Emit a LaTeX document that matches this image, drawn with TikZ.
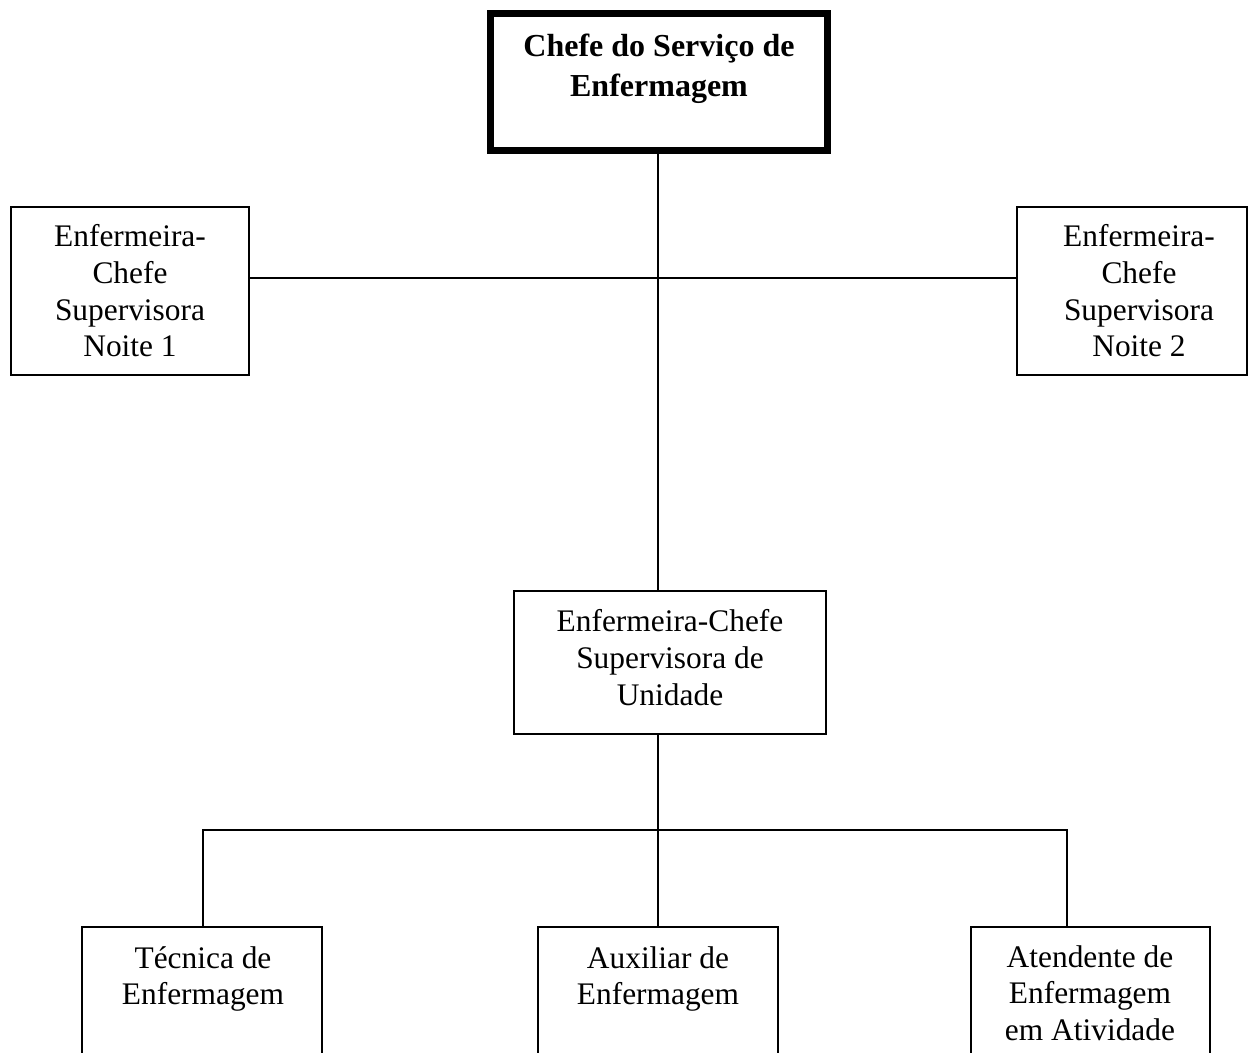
\documentclass[tikz,border=0pt]{standalone}
\usepackage{fontspec}
\setmainfont{Liberation Serif}
\begin{document}
\begin{tikzpicture}[x=0.5pt,y=-0.5pt,
  box/.style={draw=black,line width=0.85pt,rectangle,inner sep=0pt},
  headbox/.style={draw=black,line width=3.5pt,rectangle,inner sep=0pt},
  label/.style={inner sep=0pt,anchor=base,font=\fontsize{15.7}{18.3}\selectfont},
  headlabel/.style={inner sep=0pt,anchor=base,font=\fontsize{16}{19.7}\selectfont\bfseries},
  link/.style={draw=black,line width=0.85pt}]
\path[use as bounding box] (0,0) rectangle (1248,1053);
\clip (0,0) rectangle (1248,1053);

% boxes
\node[headbox,minimum width=168.5pt,minimum height=68.5pt] (chefe) at (659,82) {};
\node[box,minimum width=119pt,minimum height=84pt] (noite1) at (130,291) {};
\node[box,minimum width=115pt,minimum height=84pt] (noite2) at (1132,291) {};
\node[box,minimum width=156pt,minimum height=71.5pt] (unid) at (670,662.5) {};
\node[box,minimum width=120pt,minimum height=86.5pt] (tec) at (202,1013.5) {};
\node[box,minimum width=120pt,minimum height=86.5pt] (aux) at (658,1013.5) {};
\node[box,minimum width=119.5pt,minimum height=86.5pt] (atd) at (1090.5,1013.5) {};

% texts
\node[headlabel] (tchefe) at (659,57) {\begin{tabular}[t]{@{}c@{}}Chefe do Serviço de\\Enfermagem\end{tabular}};
\node[label] (tnoite1) at (130,247) {\begin{tabular}[t]{@{}c@{}}Enfermeira-\\Chefe\\Supervisora\\Noite 1\end{tabular}};
\node[label] (tnoite2) at (1139,247) {\begin{tabular}[t]{@{}c@{}}Enfermeira-\\Chefe\\Supervisora\\Noite 2\end{tabular}};
\node[label] (tunid) at (670,632) {\begin{tabular}[t]{@{}c@{}}Enfermeira-Chefe\\Supervisora de\\Unidade\end{tabular}};
\node[label] (ttec) at (203,968) {\begin{tabular}[t]{@{}c@{}}Técnica de\\Enfermagem\end{tabular}};
\node[label] (taux) at (658,968) {\begin{tabular}[t]{@{}c@{}}Auxiliar de\\Enfermagem\end{tabular}};
\node[label] (tatd) at (1090,967) {\begin{tabular}[t]{@{}c@{}}Atendente de\\Enfermagem\\em Atividade\end{tabular}};

% junction points
\coordinate (hbar) at (658,278);
\coordinate (busL) at (203,830);
\coordinate (busM) at (658,830);
\coordinate (busR) at (1067,830);

% connectors
\draw[link] (chefe.south -| busM) -- (busM |- unid.north);
\draw[link] (noite1.east |- hbar) -- (noite2.west |- hbar);
\draw[link] (unid.south -| busM) -- (busM);
\draw[link] (tec.north -| busL) -- (busL) -- (busR) -- (busR |- atd.north);
\draw[link] (busM) -- (aux.north);
\end{tikzpicture}
\end{document}
